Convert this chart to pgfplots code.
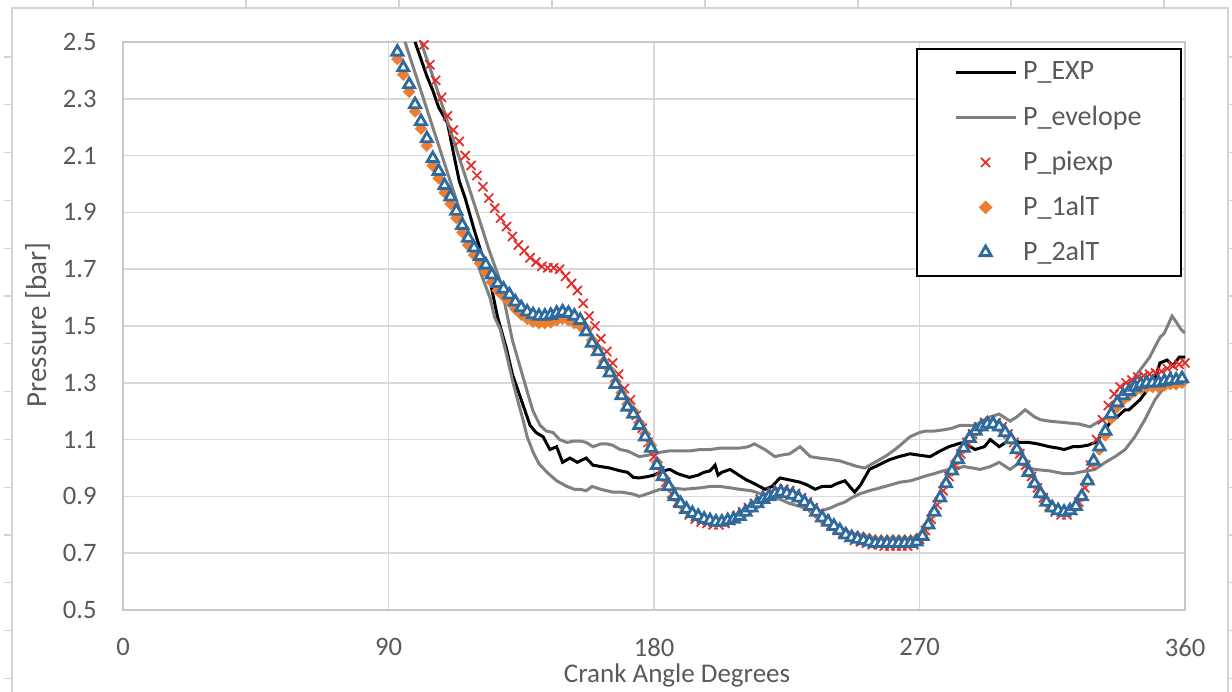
\documentclass[border=0pt]{standalone}
\usepackage{fontspec}
\setmainfont{Carlito}
\usepackage{pgfplots}
\pgfplotsset{compat=1.18}
\definecolor{txt}{HTML}{595959}
\definecolor{gridc}{HTML}{D9D9D9}
\definecolor{axc}{HTML}{C8C8C8}
\definecolor{framec}{HTML}{D4D4D4}
\definecolor{envgray}{HTML}{808080}
\definecolor{xred}{HTML}{E52A2A}
\definecolor{orng}{HTML}{ED7D31}
\definecolor{tblue}{HTML}{2E6A9E}
\pgfplotsset{
  mlegend/.style={legend image code/.code={\path[draw=none,fill=none] (-18.5bp,0bp) -- (30bp,0bp);
    \draw[##1] plot coordinates {(15bp,0bp)};}},
}
\begin{document}
\begin{tikzpicture}
\begin{axis}[name=ax, scale only axis, width=531bp, height=284bp,
  xmin=0, xmax=360, ymin=0.5, ymax=2.5,
  xtick={0,90,180,270,360},
  ytick={0.5,0.7,0.9,1.1,1.3,1.5,1.7,1.9,2.1,2.3,2.5},
  grid=major, major grid style={draw=gridc, line width=0.75bp},
  axis line style={draw=axc, line width=0.75bp},
  major tick length=0pt,
  /pgf/number format/assume math mode=true,
  tick label style={font=\fontsize{13.3bp}{15bp}\selectfont, text=txt},
  yticklabel style={/pgf/number format/.cd, fixed, fixed zerofill, precision=1, /tikz/.cd, anchor=east, inner sep=0pt, xshift=-13bp},
  xticklabel style={anchor=north, inner sep=0pt, yshift=-14bp},
  xlabel={Crank Angle Degrees}, ylabel={Pressure [bar]},
  every axis x label/.style={at={(axis description cs:0.5217,-0.1268)}, anchor=base, font=\fontsize{13.5bp}{16bp}\selectfont, text=txt},
  every axis y label/.style={at={(axis description cs:-0.0804,0.502)}, rotate=90, anchor=center, font=\fontsize{14.5bp}{16bp}\selectfont, text=txt},
  legend image code/.code={\path[draw=none,fill=none] (-18.5bp,0bp) -- (30bp,0bp);
    \draw[#1] (0bp,0bp) -- (30bp,0bp);},
  legend cell align=left,
  legend style={at={(0.99718,0.9894)}, anchor=north east, draw=black, line width=0.9bp,
    inner xsep=1bp, inner ysep=0.5bp, row sep=0pt,
    font=\fontsize{14bp}{16bp}\selectfont, text=txt,
    nodes={inner xsep=3bp, inner ysep=0pt, minimum height=22.5bp, text width=75bp, align=left}},
]
% P_EXP
\addplot[black, line width=1.5bp] coordinates {
(99,2.50)(101,2.44)(103,2.38)(105,2.33)(107,2.27)(110,2.215)(112,2.11)(114,2.01)(116,1.95)(119,1.84)
(122,1.74)(124.4,1.66)(127,1.53)(130,1.42)(132,1.33)(134,1.27)(136,1.21)(138,1.15)(140,1.125)(142.4,1.11)
(144.7,1.065)(147,1.075)(149,1.02)(151.5,1.035)(154,1.02)(157,1.035)(159.3,1.01)(162,1.005)(165,1.0)(168.5,0.99)
(171,0.985)(173,0.967)(175,0.965)(178,0.97)(180,0.975)(183,0.99)(185.4,0.995)(188,0.98)(192,0.967)(195,0.975)
(197,0.985)(199,0.99)(200.7,1.01)(201.7,0.975)(203,0.985)(205.8,0.995)(208,0.98)(211,0.96)(214,0.945)(217.6,0.925)
(220,0.935)(222.7,0.965)(225,0.96)(229.5,0.95)(232,0.94)(234.6,0.925)(237,0.935)(240,0.935)(242,0.945)(244.7,0.955)
(248,0.915)(250,0.94)(253,0.995)(256,1.01)(260,1.03)(263,1.04)(266.8,1.05)(270,1.045)(273.6,1.04)(277,1.06)
(280,1.075)(283,1.085)(285,1.09)(288.8,1.065)(292,1.075)(294,1.10)(297,1.075)(300.7,1.10)(304,1.09)(307,1.09)
(310,1.085)(314,1.075)(317,1.07)(319,1.065)(322,1.075)(324,1.075)(327,1.08)(329.5,1.09)(332,1.12)(334.6,1.16)
(337,1.18)(339.7,1.205)(341,1.205)(344.7,1.24)(348,1.285)(350,1.32)(351.5,1.37)(353.9,1.38)(356,1.36)(358,1.39)(360,1.39)
};
\addlegendentry{P\_EXP}
% P_evelope (lower)
\addplot[envgray, line width=1.5bp] coordinates {
(95.6,2.50)(100,2.36)(105,2.20)(110,2.04)(115,1.88)(121.5,1.68)(124.4,1.60)(126,1.53)(127.8,1.49)(130,1.40)
(132,1.31)(134,1.23)(135.6,1.17)(137,1.11)(139,1.056)(141,1.015)(143.7,0.985)(147,0.955)(150.5,0.935)(153,0.925)
(155,0.925)(157,0.92)(159,0.935)(162,0.925)(166,0.915)(169,0.915)(173,0.908)(175,0.90)(178,0.91)(182,0.925)
(186,0.93)(190,0.925)(195.6,0.93)(199,0.935)(202.4,0.935)(206,0.93)(209,0.925)(213,0.92)(216,0.91)(219,0.90)
(222.7,0.89)(226,0.875)(229.5,0.865)(232,0.855)(234.6,0.845)(237,0.85)(240,0.86)(242,0.87)(244.7,0.88)(247,0.895)
(250,0.91)(253,0.92)(256.6,0.93)(260,0.94)(263.4,0.95)(267,0.955)(270,0.965)(273,0.975)(275,0.98)(278,0.99)
(280,0.995)(283,1.0)(285,1.005)(288,1.0)(290.5,0.995)(294,1.005)(297,1.02)(300.7,0.995)(304,1.02)(306,1.005)
(309,0.995)(314,0.99)(319,0.98)(322,0.98)(324,0.985)(327,0.99)(329.5,0.995)(333,1.02)(336.3,1.04)(339.7,1.065)
(343,1.11)(346.4,1.17)(349.8,1.24)(353,1.285)(356.6,1.31)(360,1.32)
};
\addlegendentry{P\_evelope}
% P_evelope (upper)
\addplot[envgray, line width=1.5bp, forget plot] coordinates {
(101,2.50)(105,2.38)(110,2.22)(115,2.06)(120,1.90)(124,1.77)(127.8,1.66)(130,1.55)(132,1.45)(134.5,1.36)
(137,1.27)(139,1.20)(141.4,1.15)(143.5,1.13)(145.8,1.125)(148,1.10)(150.5,1.09)(153,1.095)(155,1.095)(157,1.09)
(159.3,1.075)(162,1.085)(164,1.085)(166,1.08)(168.5,1.065)(171,1.06)(173,1.05)(175,1.04)(178,1.045)(182,1.055)
(185,1.06)(188.8,1.06)(192,1.06)(195.6,1.065)(199,1.065)(202.4,1.07)(206,1.07)(209,1.07)(212,1.075)(214,1.085)
(217.6,1.065)(221,1.04)(223,1.045)(226,1.05)(229.5,1.075)(233,1.04)(236,1.035)(240,1.03)(243,1.025)(246,1.015)
(249,1.005)(251.5,1.0)(254,1.015)(256.6,1.03)(259,1.045)(261.7,1.065)(264,1.085)(266.8,1.11)(270,1.125)(272,1.13)
(275,1.13)(278.6,1.135)(281,1.14)(283.7,1.15)(286,1.15)(288.8,1.15)(292,1.17)(294,1.18)(297,1.19)(300.7,1.165)
(303,1.18)(305.8,1.205)(309,1.18)(311,1.17)(314,1.165)(319,1.16)(324,1.155)(327.8,1.145)(331,1.165)(334.6,1.18)
(336.5,1.21)(338,1.24)(340.5,1.28)(343,1.32)(345.5,1.355)(348,1.39)(350,1.43)(351.5,1.46)(353,1.475)(355.6,1.535)
(357.3,1.51)(358.5,1.49)(360,1.475)
};
% P_piexp
\addplot[only marks, mlegend, mark=x, mark size=3.2bp, color=xred, mark options={line width=0.85bp}] coordinates {
(102,2.49)(104,2.42)(106,2.365)(108,2.305)(110,2.24)(112,2.19)(114,2.15)(116,2.10)(118,2.065)(120,2.03)
(122,1.99)(124,1.95)(126,1.915)(128,1.88)(130,1.85)(132,1.815)(134,1.785)(136,1.765)(138,1.74)(140,1.725)
(142,1.71)(144,1.705)(146,1.705)(148,1.70)(150,1.675)(152,1.65)(154,1.625)(156,1.58)(158,1.535)(160,1.50)
(162,1.455)(164,1.41)(166,1.37)(168,1.33)(170,1.28)(172,1.24)(174,1.185)(176,1.14)(178,1.09)(180,1.04)
(182,0.99)(184,0.95)(186,0.91)(188,0.88)(190,0.855)(192,0.835)(194,0.82)(196,0.81)(198,0.805)(200,0.80)
(202,0.80)(204,0.805)(206,0.815)(208,0.83)(210,0.845)(212,0.86)(214,0.875)(216,0.89)(218,0.905)(220,0.915)
(222,0.925)(224,0.925)(226,0.92)(228,0.91)(230,0.895)(232,0.88)(234,0.86)(236,0.84)(238,0.82)(240,0.80)
(242,0.785)(244,0.77)(246,0.755)(248,0.745)(250,0.74)(252,0.735)(254,0.73)(256,0.73)(258,0.725)(260,0.725)
(262,0.725)(264,0.725)(266,0.725)(268,0.73)(270,0.75)(272,0.78)(274,0.82)(276,0.87)(278,0.92)(280,0.97)
(282,1.01)(284,1.05)(286,1.09)(288,1.12)(290,1.145)(292,1.16)(294,1.165)(296,1.16)(298,1.145)(300,1.12)
(302,1.09)(304,1.05)(306,1.01)(308,0.97)(310,0.93)(312,0.895)(314,0.865)(316,0.845)(318,0.835)(320,0.835)
(322,0.85)(324,0.88)(326,0.93)(328,1.01)(330,1.10)(332,1.17)(334,1.22)(336,1.26)(338,1.285)(340,1.30)
(342,1.31)(344,1.32)(346,1.325)(348,1.33)(350,1.335)(352,1.34)(354,1.35)(356,1.36)(358,1.365)(360,1.37)
};
\addlegendentry{P\_piexp}
% P_1alT
\addplot[only marks, mlegend, mark=square*, mark size=2.0bp, color=orng, mark options={rotate=45}] coordinates {
(93,2.44)(95,2.385)(97,2.325)(99,2.255)(101,2.195)(103,2.135)(105,2.065)(107,2.02)(109,1.97)(111,1.93)
(113,1.88)(115,1.83)(117,1.785)(119,1.75)(121,1.72)(123,1.69)(125,1.655)(127,1.625)(129,1.605)(131,1.585)
(133,1.56)(135,1.54)(137,1.525)(139,1.515)(141,1.51)(143,1.51)(145,1.513)(147,1.52)(149,1.525)(151,1.52)
(153,1.51)(155,1.50)(157,1.49)(159,1.45)(161,1.42)(163,1.375)(165,1.345)(167,1.305)(169,1.265)(171,1.225)
(173,1.20)(175,1.16)(177,1.12)(179,1.08)(181,1.02)(183,0.97)(185,0.935)(187,0.90)(189,0.875)(191,0.855)
(193,0.84)(195,0.83)(197,0.82)(199,0.815)(201,0.81)(203,0.81)(205,0.815)(207,0.82)(209,0.83)(211,0.845)
(213,0.86)(215,0.875)(217,0.89)(219,0.90)(221,0.91)(223,0.915)(225,0.91)(227,0.905)(229,0.895)(231,0.88)
(233,0.865)(235,0.845)(237,0.825)(239,0.81)(241,0.795)(243,0.78)(245,0.77)(247,0.762)(249,0.758)(251,0.755)
(253,0.75)(255,0.745)(257,0.745)(259,0.745)(261,0.745)(263,0.745)(265,0.745)(267,0.745)(269,0.75)(271,0.765)
(273,0.80)(275,0.845)(277,0.895)(279,0.945)(281,0.99)(283,1.03)(285,1.07)(287,1.105)(289,1.13)(291,1.145)
(293,1.155)(295,1.155)(297,1.145)(299,1.125)(301,1.10)(303,1.065)(305,1.025)(307,0.985)(309,0.945)(311,0.91)
(313,0.88)(315,0.86)(317,0.85)(319,0.845)(321,0.85)(323,0.865)(325,0.90)(327,0.955)(329,1.02)(331,1.065)
(333,1.115)(335,1.175)(337,1.215)(339,1.24)(341,1.255)(343,1.27)(345,1.28)(347,1.285)(349,1.285)(351,1.285)
(353,1.29)(355,1.295)(357,1.295)(359,1.30)
};
\addlegendentry{P\_1alT}
% P_2alT
\addplot[only marks, mlegend, mark=triangle*, mark size=3.2bp, draw=tblue, fill=white, mark options={line width=1.4bp, fill=white, draw=tblue}] coordinates {
(93,2.465)(95,2.41)(97,2.35)(99,2.28)(101,2.22)(103,2.16)(105,2.09)(107,2.045)(109,1.995)(111,1.955)
(113,1.905)(115,1.855)(117,1.81)(119,1.775)(121,1.745)(123,1.715)(125,1.68)(127,1.65)(129,1.63)(131,1.61)
(133,1.585)(135,1.565)(137,1.55)(139,1.54)(141,1.535)(143,1.535)(145,1.538)(147,1.545)(149,1.55)(151,1.545)
(153,1.535)(155,1.52)(157,1.48)(159,1.44)(161,1.41)(163,1.365)(165,1.335)(167,1.295)(169,1.255)(171,1.215)
(173,1.19)(175,1.15)(177,1.11)(179,1.07)(181,1.01)(183,0.97)(185,0.935)(187,0.90)(189,0.875)(191,0.855)
(193,0.84)(195,0.83)(197,0.82)(199,0.815)(201,0.81)(203,0.81)(205,0.815)(207,0.82)(209,0.83)(211,0.845)
(213,0.86)(215,0.875)(217,0.89)(219,0.90)(221,0.91)(223,0.915)(225,0.91)(227,0.905)(229,0.895)(231,0.88)
(233,0.865)(235,0.845)(237,0.825)(239,0.81)(241,0.795)(243,0.78)(245,0.765)(247,0.755)(249,0.75)(251,0.745)
(253,0.74)(255,0.735)(257,0.735)(259,0.735)(261,0.735)(263,0.735)(265,0.735)(267,0.735)(269,0.74)(271,0.76)
(273,0.80)(275,0.845)(277,0.895)(279,0.945)(281,0.99)(283,1.03)(285,1.07)(287,1.105)(289,1.13)(291,1.145)
(293,1.155)(295,1.155)(297,1.145)(299,1.125)(301,1.10)(303,1.065)(305,1.025)(307,0.985)(309,0.945)(311,0.91)
(313,0.88)(315,0.86)(317,0.85)(319,0.845)(321,0.85)(323,0.865)(325,0.90)(327,0.955)(329,1.025)(331,1.075)
(333,1.13)(335,1.19)(337,1.23)(339,1.255)(341,1.27)(343,1.285)(345,1.295)(347,1.30)(349,1.30)(351,1.30)
(353,1.305)(355,1.31)(357,1.31)(359,1.315)
};
\addlegendentry{P\_2alT}
\end{axis}
\begin{scope}[shift={(ax.south west)}, draw=framec, line width=0.6bp]
  \draw (-55.5bp,-41bp) -- (-55.5bp,301bp) -- (552.5bp,301bp) -- (552.5bp,-41bp);
  \foreach \k in {0,...,13} {
    \draw (-55.5bp,{(610-57-47.8*\k)*0.5bp}) -- ++(-4bp,0);
    \draw (552.5bp,{(610-57-47.8*\k)*0.5bp}) -- ++(2bp,0);
  }
  \foreach \k in {0,...,7} {
    \draw ({(93+153*\k-123)*0.5bp},301bp) -- ++(0,4bp);
  }
\end{scope}
\pgfresetboundingbox
\path[shift={(ax.south west)}] (-61.5bp,-41bp) rectangle (554.5bp,305bp);
\end{tikzpicture}
\end{document}
